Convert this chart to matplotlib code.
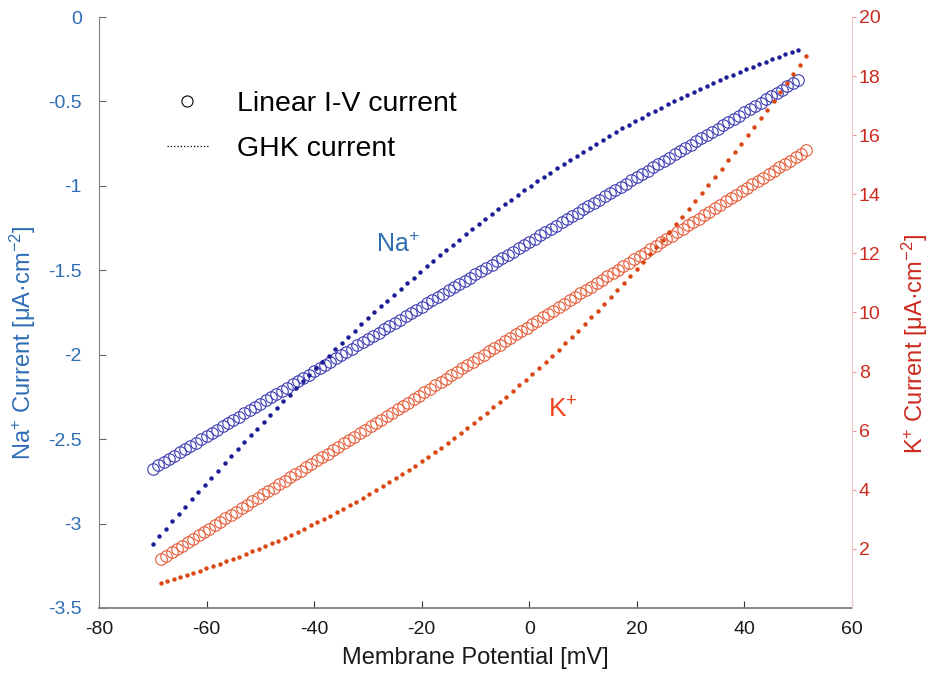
import numpy as np
import matplotlib
matplotlib.use('Agg')
import matplotlib.pyplot as plt
from matplotlib.lines import Line2D
from matplotlib.ticker import FuncFormatter

plt.rcParams['font.family'] = ['Liberation Sans', 'DejaVu Sans']
plt.rcParams['mathtext.fontset'] = 'custom'
plt.rcParams['mathtext.rm'] = 'Liberation Sans'
plt.rcParams['mathtext.it'] = 'Liberation Sans:italic'
plt.rcParams['mathtext.bf'] = 'Liberation Sans:bold'
plt.rcParams['axes.unicode_minus'] = False

# Na+ linear I-V current (1 mV steps)
v_na_lin = np.arange(-70, 51)
i_na_lin = [
    -2.674, -2.655, -2.636, -2.616, -2.597, -2.578, -2.559, -2.540, -2.521, -2.501,
    -2.482, -2.463, -2.444, -2.425, -2.406, -2.386, -2.367, -2.348, -2.329, -2.310,
    -2.291, -2.271, -2.252, -2.233, -2.214, -2.195, -2.175, -2.156, -2.137, -2.118,
    -2.099, -2.080, -2.060, -2.041, -2.022, -2.003, -1.984, -1.965, -1.945, -1.926,
    -1.907, -1.888, -1.869, -1.849, -1.830, -1.811, -1.792, -1.773, -1.754, -1.734,
    -1.715, -1.696, -1.677, -1.658, -1.639, -1.619, -1.600, -1.581, -1.562, -1.543,
    -1.524, -1.504, -1.485, -1.466, -1.447, -1.428, -1.408, -1.389, -1.370, -1.351,
    -1.332, -1.313, -1.293, -1.274, -1.255, -1.236, -1.217, -1.198, -1.178, -1.159,
    -1.140, -1.121, -1.102, -1.082, -1.063, -1.044, -1.025, -1.006, -0.987, -0.967,
    -0.948, -0.929, -0.910, -0.891, -0.872, -0.852, -0.833, -0.814, -0.795, -0.776,
    -0.757, -0.737, -0.718, -0.699, -0.680, -0.661, -0.641, -0.622, -0.603, -0.584,
    -0.565, -0.546, -0.526, -0.507, -0.488, -0.469, -0.450, -0.431, -0.411, -0.392,
    -0.373]

# K+ linear I-V current (1 mV steps)
v_k_lin = np.arange(-68.5, 52.5, 1.0)
i_k_lin = [
    1.650, 1.765, 1.881, 1.996, 2.111, 2.227, 2.342, 2.457, 2.572, 2.688,
    2.803, 2.918, 3.034, 3.149, 3.264, 3.380, 3.495, 3.610, 3.725, 3.841,
    3.956, 4.071, 4.187, 4.302, 4.417, 4.533, 4.648, 4.763, 4.878, 4.994,
    5.109, 5.224, 5.340, 5.455, 5.570, 5.686, 5.801, 5.916, 6.031, 6.147,
    6.262, 6.377, 6.493, 6.608, 6.723, 6.839, 6.954, 7.069, 7.184, 7.300,
    7.415, 7.530, 7.646, 7.761, 7.876, 7.992, 8.107, 8.222, 8.337, 8.453,
    8.568, 8.683, 8.799, 8.914, 9.029, 9.145, 9.260, 9.375, 9.490, 9.606,
    9.721, 9.836, 9.952, 10.067, 10.182, 10.298, 10.413, 10.528, 10.643, 10.759,
    10.874, 10.989, 11.105, 11.220, 11.335, 11.451, 11.566, 11.681, 11.796, 11.912,
    12.027, 12.142, 12.258, 12.373, 12.488, 12.604, 12.719, 12.834, 12.949, 13.065,
    13.180, 13.295, 13.411, 13.526, 13.641, 13.757, 13.872, 13.987, 14.102, 14.218,
    14.333, 14.448, 14.564, 14.679, 14.794, 14.910, 15.025, 15.140, 15.255, 15.371,
    15.486]

# Na+ GHK current (100 samples)
v_na_ghk = np.linspace(-70, 50, 100)
i_na_ghk = [
    -3.119, -3.075, -3.031, -2.987, -2.943, -2.900, -2.857, -2.814, -2.771, -2.728,
    -2.686, -2.644, -2.602, -2.561, -2.519, -2.478, -2.437, -2.397, -2.356, -2.316,
    -2.276, -2.237, -2.197, -2.158, -2.120, -2.081, -2.043, -2.005, -1.968, -1.931,
    -1.894, -1.857, -1.821, -1.785, -1.749, -1.714, -1.679, -1.645, -1.610, -1.576,
    -1.543, -1.510, -1.477, -1.444, -1.412, -1.380, -1.349, -1.318, -1.287, -1.257,
    -1.227, -1.197, -1.168, -1.139, -1.110, -1.082, -1.054, -1.027, -1.000, -0.973,
    -0.947, -0.921, -0.895, -0.870, -0.846, -0.821, -0.797, -0.773, -0.750, -0.727,
    -0.704, -0.682, -0.660, -0.639, -0.618, -0.597, -0.576, -0.556, -0.537, -0.517,
    -0.498, -0.479, -0.461, -0.443, -0.425, -0.407, -0.390, -0.374, -0.357, -0.341,
    -0.325, -0.309, -0.294, -0.279, -0.264, -0.250, -0.236, -0.222, -0.208, -0.195]

# K+ GHK current (100 samples)
v_k_ghk = np.linspace(-68.5, 51.5, 100)
i_k_ghk = [
    0.858, 0.923, 0.989, 1.057, 1.126, 1.197, 1.269, 1.344, 1.420, 1.498,
    1.577, 1.659, 1.742, 1.827, 1.914, 2.004, 2.095, 2.188, 2.283, 2.380,
    2.480, 2.582, 2.685, 2.792, 2.900, 3.011, 3.124, 3.239, 3.357, 3.477,
    3.600, 3.725, 3.853, 3.983, 4.116, 4.251, 4.389, 4.530, 4.673, 4.819,
    4.968, 5.119, 5.274, 5.431, 5.590, 5.753, 5.918, 6.087, 6.258, 6.432,
    6.609, 6.788, 6.971, 7.156, 7.345, 7.536, 7.730, 7.927, 8.127, 8.330,
    8.536, 8.744, 8.956, 9.170, 9.388, 9.608, 9.831, 10.057, 10.285, 10.517,
    10.751, 10.988, 11.228, 11.471, 11.716, 11.965, 12.215, 12.469, 12.725, 12.984,
    13.245, 13.509, 13.775, 14.044, 14.316, 14.590, 14.866, 15.145, 15.426, 15.709,
    15.995, 16.283, 16.573, 16.866, 17.160, 17.457, 17.756, 18.057, 18.360, 18.665]

NA_CIRC = '#3c3cb4'
NA_DOT = '#1c1c96'
K_CIRC = '#e65a36'
K_DOT = '#d94812'
BLUE_TXT = '#2f6db5'
RED_TXT = '#cc2a1e'

fig = plt.figure(figsize=(9.32, 6.77), dpi=100)
ax = fig.add_axes([99 / 932, 1 - 608 / 677, (852 - 99) / 932, (608 - 17) / 677])
ax2 = ax.twinx()

ax.plot(v_na_lin, i_na_lin, ls='none', marker='o', ms=8.3, mfc='none', mec=NA_CIRC, mew=0.8)
ax.plot(v_na_ghk, i_na_ghk, ls='none', marker='o', ms=3.2, mfc=NA_DOT, mec='none')
ax2.plot(v_k_lin, i_k_lin, ls='none', marker='o', ms=8.3, mfc='none', mec=K_CIRC, mew=0.8)
ax2.plot(v_k_ghk, i_k_ghk, ls='none', marker='o', ms=3.2, mfc=K_DOT, mec='none')

ax.set_xlim(-80, 60)
ax.set_ylim(-3.5, 0)
ax2.set_ylim(0, 20)
ax.set_xticks(np.arange(-80, 61, 20))
ax.set_yticks(np.arange(-3.5, 0.01, 0.5))
ax2.set_yticks(np.arange(2, 21, 2))
fmt = FuncFormatter(lambda v, p: f'{v:g}')
ax.xaxis.set_major_formatter(fmt)
ax.yaxis.set_major_formatter(fmt)
ax2.yaxis.set_major_formatter(fmt)

for s in ('top', 'right'):
    ax.spines[s].set_visible(False)
for s in ('top', 'left', 'bottom'):
    ax2.spines[s].set_visible(False)
ax.spines['left'].set_color('#808080')
ax.spines['bottom'].set_color('#808080')
ax.spines['bottom'].set_linewidth(1.3)
ax2.spines['right'].set_color('#f3c5c5')

ax.tick_params(axis='x', direction='in', length=5, width=0.8, color='#333333',
               labelsize=14, pad=9, labelcolor='#1a1a1a')
ax.tick_params(axis='y', direction='in', length=5, width=0.8, color='#666666',
               labelsize=14, pad=12.5, labelcolor=BLUE_TXT)
ax2.tick_params(axis='y', direction='out', length=3, width=0.8, color='#e89a9a',
                labelsize=14, pad=2, labelcolor=RED_TXT)

ax.set_xlabel('Membrane Potential [mV]', fontsize=17, labelpad=7, color='#1a1a1a')
fig.text(31 / 932, 1 - 343 / 677, r'Na$^{+}$ Current [μA·cm$^{-2}$]', rotation=90,
         rotation_mode='anchor', ha='center', va='baseline', fontsize=17, color=BLUE_TXT)
fig.text(923 / 932, 1 - 344 / 677, r'K$^{+}$ Current [μA·cm$^{-2}$]', rotation=90,
         rotation_mode='anchor', ha='center', va='baseline', fontsize=17, color=RED_TXT)

ax.text(-28.5, -1.392, r'Na$^{+}$', fontsize=18, color=BLUE_TXT, ha='left', va='baseline')
ax.text(3.5, -2.37, r'K$^{+}$', fontsize=19, color='#ee4422', ha='left', va='baseline')

handles = [Line2D([], [], ls='none', marker='o', ms=8, mfc='none', mec='k', mew=0.8),
           Line2D([], [], ls=':', color='k', lw=0.9)]
ax.legend(handles, ['Linear I-V current', 'GHK current'], loc='upper left',
          bbox_to_anchor=(0.09, 0.875), frameon=False, fontsize=20.5, handlelength=1.45,
          handletextpad=1.0, labelspacing=0.66, borderpad=0, borderaxespad=0)

fig.savefig('out.png', dpi=100)
